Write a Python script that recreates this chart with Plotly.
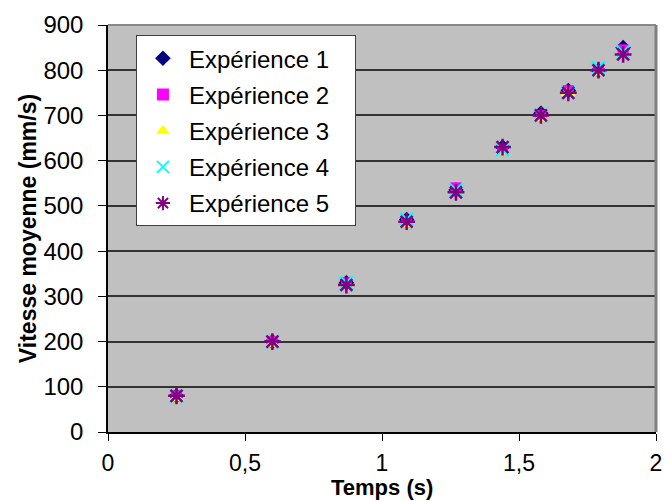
import plotly.graph_objects as go

temps = [0.25, 0.60, 0.87, 1.09, 1.27, 1.44, 1.58, 1.68, 1.79, 1.88]
exp1 = [80, 200, 330, 470, 535, 630, 705, 755, 800, 850]
exp2 = [80, 200, 330, 465, 540, 625, 700, 755, 800, 845]
exp3 = [75, 195, 325, 460, 530, 620, 695, 750, 795, 835]
exp4 = [80, 200, 330, 470, 535, 625, 700, 750, 805, 840]
exp5 = [80, 200, 325, 465, 530, 630, 700, 750, 800, 835]
names = ["Expérience 1", "Expérience 2", "Expérience 3", "Expérience 4", "Expérience 5"]
series = [exp1, exp2, exp3, exp4, exp5]
x_title = "Temps (s)"
y_title = "Vitesse moyenne (mm/s)"

styles = [
    dict(symbol="diamond", color="#000080", size=12, line=dict(width=0)),
    dict(symbol="square", color="#FF00FF", size=11, line=dict(width=0)),
    dict(symbol="triangle-up", color="#FFFF00", size=13, line=dict(width=0)),
    dict(symbol="x-thin-open", color="#00FFFF", size=13, line=dict(width=2.5, color="#00FFFF")),
    dict(symbol="asterisk-open", color="#800080", size=14, line=dict(width=2.5, color="#800080")),
]

FONT = "Arial, Liberation Sans, sans-serif"
fig = go.Figure()
for i, (nm, vals, st) in enumerate(zip(names, series, styles)):
    fig.add_trace(go.Scatter(x=temps, y=vals, mode="markers", name=nm + "\u00a0\u00a0\u00a0",
                             legendgroup=f"g{i}", marker=st))

fig.update_layout(
    width=668, height=501,
    margin=dict(l=108, r=12, t=25, b=69),
    paper_bgcolor="white", plot_bgcolor="#C0C0C0",
    separators=", ",
    font=dict(family=FONT, size=24, color="black"),
    legend=dict(x=0.051, y=0.975, xanchor="left", yanchor="top",
                bgcolor="white", bordercolor="#404040", borderwidth=1,
                font=dict(size=24, family=FONT), tracegroupgap=2,
                itemsizing="constant", itemwidth=42),
    showlegend=True,
)
fig.update_xaxes(range=[0, 2], tickvals=[0, 0.5, 1, 1.5, 2], showgrid=False,
                 zeroline=False, showline=True, linecolor="black", linewidth=1.5,
                 ticks="outside", ticklen=7, tickcolor="black", automargin=False,
                 tickfont=dict(size=23, family=FONT), ticklabelstandoff=3)
fig.update_yaxes(range=[0, 900], dtick=100, showgrid=True, gridcolor="#333333", gridwidth=1.5,
                 zeroline=False, showline=True, linecolor="black", linewidth=1.5,
                 ticks="outside", ticklen=8, tickcolor="black", automargin=False,
                 tickfont=dict(size=24, family=FONT), ticklabelstandoff=10,
                 title=dict(text=f"<b>{y_title}</b>", font=dict(size=23, family=FONT), standoff=0))
fig.add_annotation(text=f"<b>{x_title}</b>", xref="paper", yref="paper", x=0.5, y=-0.1695,
                   xanchor="center", yanchor="bottom", showarrow=False, borderpad=0,
                   font=dict(size=22, family=FONT, color="black"))
# frame on top/right
fig.add_shape(type="line", xref="paper", yref="paper", x0=0, x1=1, y0=1, y1=1,
              line=dict(color="#888888", width=2))
fig.add_shape(type="line", xref="paper", yref="paper", x0=1, x1=1, y0=0, y1=1,
              line=dict(color="#808080", width=3))
fig.write_html("out.html")
